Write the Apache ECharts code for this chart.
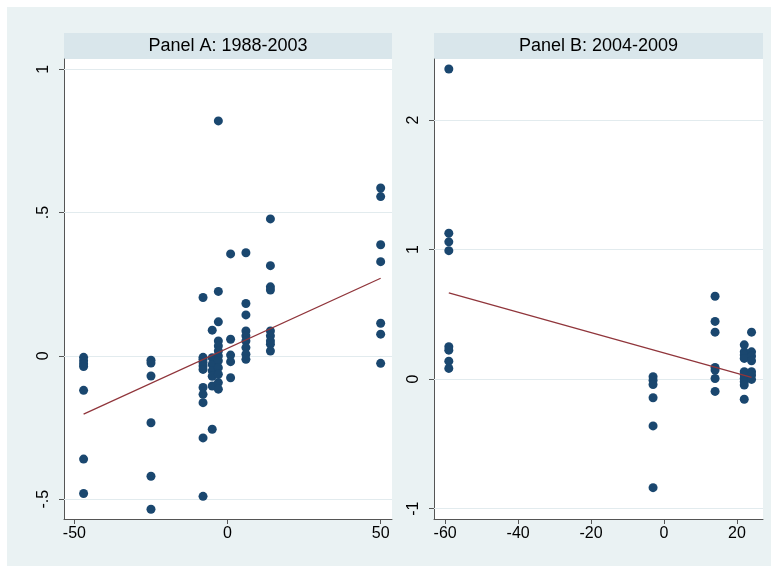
<!DOCTYPE html>
<html>
<head>
<meta charset="utf-8">
<script src="https://cdn.jsdelivr.net/npm/echarts@6/dist/echarts.min.js"></script>
<style>
html,body{margin:0;padding:0;background:#fff;}
#chart{width:778px;height:573px;}
</style>
</head>
<body>
<div id="chart"></div>
<script>
// ---------- DATA ----------
const panelATitle = "Panel A: 1988-2003";
const panelBTitle = "Panel B: 2004-2009";

// Panel A: x positions of each column and the y values in it
const aX = [-47, -25, -8, -5, -3, 1, 6, 14, 50];
const aY = [
  [-0.005, -0.017, -0.028, -0.037, -0.12, -0.36, -0.48],
  [-0.015, -0.025, -0.07, -0.233, -0.42, -0.535],
  [0.204, -0.005, -0.012, -0.023, -0.035, -0.047, -0.11, -0.134, -0.163, -0.286, -0.49],
  [0.09, -0.006, -0.03, -0.052, -0.071, -0.105, -0.256],
  [0.82, 0.225, 0.119, 0.052, 0.035, 0.017, 0.0, -0.017, -0.041, -0.064, -0.093, -0.116],
  [0.356, 0.058, 0.003, -0.02, -0.076],
  [0.36, 0.183, 0.143, 0.087, 0.07, 0.052, 0.029, 0.006, -0.012],
  [0.478, 0.315, 0.241, 0.23, 0.087, 0.07, 0.052, 0.041, 0.017],
  [0.586, 0.556, 0.388, 0.329, 0.114, 0.076, -0.026]
];
const aFitX = [-47, 50];
const aFitY = [-0.203, 0.271];

// Panel B
const bX = [-59, -3, 14, 22, 24];
const bY = [
  [2.395, 1.127, 1.06, 0.992, 0.25, 0.224, 0.139, 0.083],
  [0.018, -0.008, -0.041, -0.144, -0.361, -0.838],
  [0.64, 0.446, 0.363, 0.09, 0.07, 0.005, -0.095],
  [0.265, 0.211, 0.186, 0.16, 0.057, 0.031, 0.005, -0.02, -0.046, -0.155],
  [0.363, 0.211, 0.178, 0.142, 0.057, 0.031, -0.002]
];
const bFitX = [-59, 24];
const bFitY = [0.667, 0.013];

// Ticks
const aXTicks = [-50, 0, 50];
const aYTicks = [-0.5, 0, 0.5, 1];
const bXTicks = [-60, -40, -20, 0, 20];
const bYTicks = [-1, 0, 1, 2];

// ---------- BUILD ----------
function pts(xs, ys) {
  const out = [];
  xs.forEach((x, i) => ys[i].forEach(y => out.push([x, y])));
  return out;
}
function fit(xs, ys) { return xs.map((x, i) => [x, ys[i]]); }
function fmt(v) {
  let s = String(v);
  s = s.replace(/^0\./, '.').replace(/^-0\./, '-.');
  return s;
}

const FONT = '"Liberation Sans", Arial, Helvetica, sans-serif';
const AXIS_COLOR = '#555';
const GRID_LINE = '#e2ebee';
const MARK = '#1a476f';
const FIT = '#90353b';
const LIGHT = '#eaf2f3';
const STRIP = '#d9e6eb';

const gA = {left: 64, top: 59, width: 328, height: 460};
const gB = {left: 434, top: 59, width: 329, height: 460};

function xAxisCfg(gi, min, max, ticks) {
  return {
    type: 'value', gridIndex: gi, min: min, max: max,
    axisLine: {show: true, onZero: false, lineStyle: {color: AXIS_COLOR, width: 1}},
    axisTick: {show: true, length: 5, customValues: ticks, lineStyle: {color: AXIS_COLOR}},
    axisLabel: {show: true, customValues: ticks, formatter: fmt, color: '#000',
      fontFamily: FONT, fontSize: 16, margin: 7},
    splitLine: {show: false}
  };
}
function yAxisCfg(gi, min, max, ticks) {
  return {
    type: 'value', gridIndex: gi, min: min, max: max,
    axisLine: {show: true, onZero: false, lineStyle: {color: AXIS_COLOR, width: 1}},
    axisTick: {show: true, length: 5, customValues: ticks, lineStyle: {color: AXIS_COLOR}},
    axisLabel: {show: true, customValues: ticks, formatter: fmt, color: '#000',
      fontFamily: FONT, fontSize: 16, rotate: 90, margin: 12},
    splitLine: {show: false}
  };
}
function gridLines(ticks) {
  return {
    silent: true, z: 1, symbol: ['none', 'none'], animation: false,
    label: {show: false},
    emphasis: {disabled: true},
    lineStyle: {color: GRID_LINE, width: 1, type: 'solid'},
    data: ticks.map(v => ({yAxis: v}))
  };
}

const option = {
  backgroundColor: '#fff',
  animation: false,
  graphic: [
    {type: 'rect', z: -100, shape: {x: 7, y: 7, width: 764, height: 559}, style: {fill: LIGHT}},
    {type: 'rect', z: -50, shape: {x: gA.left, y: 33, width: gA.width, height: 26}, style: {fill: STRIP}},
    {type: 'rect', z: -50, shape: {x: gB.left, y: 33, width: gB.width, height: 26}, style: {fill: STRIP}},
    {type: 'text', z: 10, x: gA.left + gA.width / 2, y: 46,
      style: {text: panelATitle, fill: '#000', font: '18px ' + FONT, textAlign: 'center', textVerticalAlign: 'middle'}},
    {type: 'text', z: 10, x: gB.left + gB.width / 2, y: 46,
      style: {text: panelBTitle, fill: '#000', font: '18px ' + FONT, textAlign: 'center', textVerticalAlign: 'middle'}}
  ],
  grid: [
    Object.assign({show: true, backgroundColor: '#fff', borderWidth: 0, containLabel: false, outerBoundsMode: 'none'}, gA),
    Object.assign({show: true, backgroundColor: '#fff', borderWidth: 0, containLabel: false, outerBoundsMode: 'none'}, gB)
  ],
  xAxis: [
    xAxisCfg(0, -53.4, 53.7, aXTicks),
    xAxisCfg(1, -63.06, 27.14, bXTicks)
  ],
  yAxis: [
    yAxisCfg(0, -0.569, 1.036, aYTicks),
    yAxisCfg(1, -1.08, 2.472, bYTicks)
  ],
  series: [
    {type: 'scatter', xAxisIndex: 0, yAxisIndex: 0, z: 3, symbol: 'circle', symbolSize: 9,
      itemStyle: {color: MARK, opacity: 1}, data: pts(aX, aY), markLine: gridLines(aYTicks)},
    {type: 'line', xAxisIndex: 0, yAxisIndex: 0, z: 4, showSymbol: false, symbol: 'none',
      lineStyle: {color: FIT, width: 1.3}, data: fit(aFitX, aFitY)},
    {type: 'scatter', xAxisIndex: 1, yAxisIndex: 1, z: 3, symbol: 'circle', symbolSize: 9,
      itemStyle: {color: MARK, opacity: 1}, data: pts(bX, bY), markLine: gridLines(bYTicks)},
    {type: 'line', xAxisIndex: 1, yAxisIndex: 1, z: 4, showSymbol: false, symbol: 'none',
      lineStyle: {color: FIT, width: 1.3}, data: fit(bFitX, bFitY)}
  ]
};

const chart = echarts.init(document.getElementById('chart'), null, {renderer: 'canvas'});
chart.setOption(option);
</script>
</body>
</html>
